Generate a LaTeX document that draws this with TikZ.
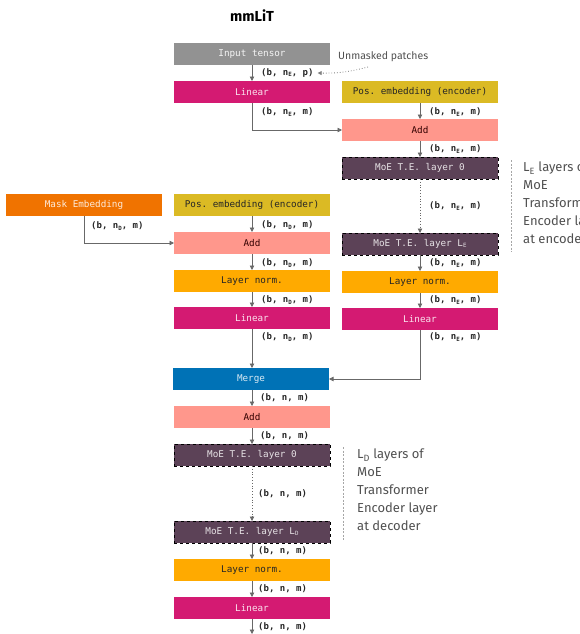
\documentclass[tikz,border=0pt]{standalone}
\usepackage{fontspec}
\setmainfont{Fira Sans}
\setmonofont{DejaVu Sans Mono}
\usetikzlibrary{arrows.meta}
\definecolor{cgray}{HTML}{929292}
\definecolor{cmag}{HTML}{D41A72}
\definecolor{cyel}{HTML}{DBBA24}
\definecolor{csal}{HTML}{FF978C}
\definecolor{cpur}{HTML}{5C4257}
\definecolor{corg}{HTML}{FFAA00}
\definecolor{cmask}{HTML}{F07300}
\definecolor{cblue}{HTML}{0072B6}
\definecolor{cline}{HTML}{686868}
\definecolor{ctext}{HTML}{505050}
\newcommand\lsub[1]{\raisebox{-0.25ex}{\fontsize{5.8}{6}\selectfont #1}}
\begin{document}
\begin{tikzpicture}[x=1pt,y=-1pt,
  blk/.style={minimum width=156pt, minimum height=22pt, inner sep=0pt, outer sep=0pt,
    font=\ttfamily\fontsize{9.3}{10}\selectfont},
  gbox/.style={blk, fill=cgray, text=white!92!gray},
  linbox/.style={blk, fill=cmag, text=white!88!cmag},
  posbox/.style={blk, fill=cyel, text=black!85},
  addbox/.style={blk, fill=csal, text=black!80!red},
  moebox/.style={blk, fill=cpur, text=white!85!cpur, draw=black, dashed, line width=0.8pt},
  lnbox/.style={blk, fill=corg, text=black!85},
  maskbox/.style={blk, fill=cmask, text=white!85!cmask},
  mergebox/.style={blk, fill=cblue, text=white!85!cblue},
  arr/.style={draw=cline, line width=0.8pt, -{Triangle[length=4.5pt,width=4.5pt]}},
  dotarr/.style={arr, dotted},
  lab/.style={anchor=west, inner sep=1pt, font=\ttfamily\bfseries\fontsize{9}{9}\selectfont, text=black!85},
  side/.style={anchor=north west, align=left, inner sep=0pt, text=ctext,
    font=\fontsize{13}{18}\selectfont},
  bracket/.style={draw=gray!70, dashed, line width=0.6pt, dash pattern=on 2pt off 1.5pt}
]
\useasboundingbox (0,0) rectangle (580,634);

\node[font=\bfseries\fontsize{14.5}{16}\selectfont] (title) at (252,16) {mmLiT};

% encoder input
\node[gbox] (in) at (252,54) {Input tensor};
\node[linbox] (lin1) at (252,92) {Linear};
\node[posbox] (posE) at (420,92) {Pos. embedding (encoder)};
\node[addbox] (addE) at (420,130) {Add};
\node[moebox] (moe0E) at (420,168) {MoE T.E. layer 0};
\node[moebox] (moeLE) at (420,244) {MoE T.E. layer L\lsub{E}};
\node[lnbox] (lnE) at (420,282) {Layer norm.};
\node[linbox] (linE) at (420,319) {Linear};

% decoder input
\node[maskbox] (mask) at (84,205) {Mask Embedding};
\node[posbox] (posD) at (252,205) {Pos. embedding (encoder)};
\node[addbox] (addD) at (252,243) {Add};
\node[lnbox] (lnD) at (252,281) {Layer norm.};
\node[linbox] (linD) at (252,318) {Linear};

% decoder
\node[mergebox] (merge) at (251,379) {Merge};
\node[addbox] (add2) at (252,417) {Add};
\node[moebox] (moe0D) at (252,455) {MoE T.E. layer 0};
\node[moebox] (moeLD) at (252,532) {MoE T.E. layer L\lsub{D}};
\node[lnbox] (ln2) at (252,570) {Layer norm.};
\node[linbox] (lin2) at (252,608) {Linear};
\coordinate (out) at (252,634);

% side notes
\node[font=\fontsize{10.5}{12}\selectfont, text=ctext, anchor=west, inner sep=0pt] (unm) at (338,57) {Unmasked patches};
\node[side] (sideE) at (523,162) {L\textsubscript{E} layers of\\MoE\\Transformer\\Encoder layer\\at encoder};
\node[side] (sideD) at (357,449) {L\textsubscript{D} layers of\\MoE\\Transformer\\Encoder layer\\at decoder};
\coordinate (bE1) at (511,160);
\coordinate (bE2) at (511,252);
\coordinate (bD1) at (343,447);
\coordinate (bD2) at (343,540);
\draw[bracket] (bE1) -- (bE2);
\draw[bracket] (bD1) -- (bD2);

% connectors encoder
\draw[arr] (in) -- (lin1);
\node[lab] (l1) at (260,73) {(b, n\lsub{E}, p)};
\coordinate (uA) at (368,67);
\draw[draw=gray, dotted, line width=0.8pt, -{Triangle[length=4pt,width=4pt]}] (uA) to[bend left=8] ([xshift=3pt]l1.east);
\draw[arr] (lin1.south) |- (addE.west);
\node[lab] at (260,112) {(b, n\lsub{E}, m)};
\draw[arr] (posE) -- (addE);
\node[lab] at (428,112) {(b, n\lsub{E}, m)};
\draw[arr] (addE) -- (moe0E);
\node[lab] at (428,149) {(b, n\lsub{E}, m)};
\draw[dotarr] (moe0E) -- (moeLE);
\node[lab] at (428,206) {(b, n\lsub{E}, m)};
\draw[arr] (moeLE) -- (lnE);
\node[lab] at (428,263) {(b, n\lsub{E}, m)};
\draw[arr] (lnE) -- (linE);
\node[lab] at (428,300) {(b, n\lsub{E}, m)};
\draw[arr] (linE.south) |- (merge.east);
\node[lab] at (428,337) {(b, n\lsub{E}, m)};

% connectors decoder input
\draw[arr] (mask.south) |- (addD.west);
\node[lab] at (90,226) {(b, n\lsub{D}, m)};
\draw[arr] (posD) -- (addD);
\node[lab] at (260,225) {(b, n\lsub{D}, m)};
\draw[arr] (addD) -- (lnD);
\node[lab] at (260,263) {(b, n\lsub{D}, m)};
\draw[arr] (lnD) -- (linD);
\node[lab] at (260,300) {(b, n\lsub{D}, m)};
\draw[arr] (linD.south) -- (linD.south |- merge.north);
\node[lab] at (260,337) {(b, n\lsub{D}, m)};

% decoder
\draw[arr] (merge.south -| add2.north) -- (add2.north);
\node[lab] at (259,398) {(b, n, m)};
\draw[arr] (add2) -- (moe0D);
\node[lab] at (259,436) {(b, n, m)};
\draw[dotarr] (moe0D) -- (moeLD);
\node[lab] at (257,494) {(b, n, m)};
\draw[arr] (moeLD) -- (ln2);
\node[lab] at (257,551) {(b, n, m)};
\draw[arr] (ln2) -- (lin2);
\node[lab] at (257,589) {(b, n, m)};
\draw[arr] (lin2) -- (out);
\node[lab] at (257,627) {(b, n, m)};
\end{tikzpicture}
\end{document}
